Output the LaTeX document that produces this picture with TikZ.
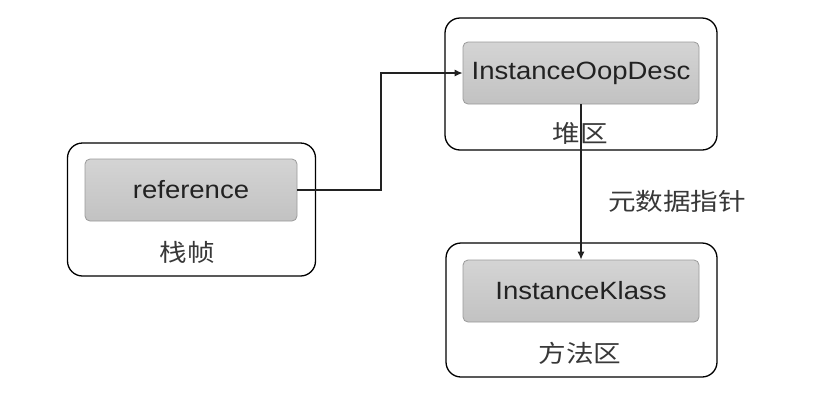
\documentclass[tikz,border=0pt]{standalone}
\usepackage{fontspec}
\setmainfont[FakeStretch=1.1]{Liberation Sans}
\newfontfamily\cjk[FakeStretch=1.15]{Noto Sans CJK SC}
\usetikzlibrary{arrows.meta}
\definecolor{boxtop}{HTML}{D4D4D4}
\definecolor{boxbot}{HTML}{C2C2C2}
\definecolor{edge}{HTML}{9A9A9A}
\definecolor{ink}{HTML}{222222}
\tikzset{
  area/.style={draw=black, line width=1.3pt, rounded corners=15pt, fill=white},
  item/.style={draw=edge, line width=0.8pt, rounded corners=5pt,
    top color=boxtop, bottom color=boxbot, minimum width=236pt, minimum height=62pt,
    text=ink, font=\fontsize{25}{30}\selectfont},
  tag/.style={text=ink!90, font=\cjk\fontsize{24}{28}\selectfont},
  arr/.style={draw=ink, line width=1.2pt, -{Latex[length=8pt,width=7pt]}}
}
\begin{document}
\begin{tikzpicture}[x=1pt,y=-1pt]
\useasboundingbox[fill=white] (0,0) rectangle (833,405);

% Stack frame
\node[area, minimum width=248pt, minimum height=133pt] (frame) at (191.5,209.5) {};
\node[item, minimum width=212pt] (ref) at (191,190) {reference};
\node[tag] (frametag) at (187,252) {栈帧};
% Heap
\node[area, minimum width=272pt, minimum height=132pt] (heap) at (581,84) {};
\node[item] (oop) at (581,73) {InstanceOopDesc};
\node[tag] (heaptag) at (580,133) {堆区};
% Method area
\node[area, minimum width=271pt, minimum height=134pt] (method) at (581.5,310) {};
\node[item] (klass) at (581,291) {InstanceKlass};
\node[tag] (methodtag) at (580,353) {方法区};

% Pointers
\coordinate (bend) at (381,190);
\draw[arr] (ref.east) -- (bend) |- (oop.west);
\draw[arr] (oop.south) -- (klass.north);
\node[tag] (meta) at (677,201) {元数据指针};

\end{tikzpicture}
\end{document}
